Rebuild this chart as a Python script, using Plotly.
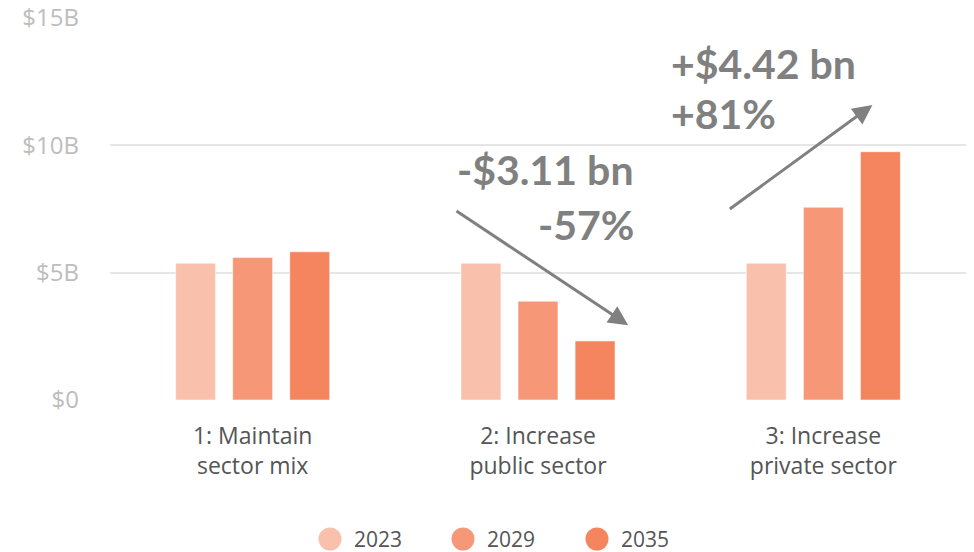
import plotly.graph_objects as go

categories = ["1: Maintain<br>sector mix", "2: Increase<br>public sector", "3: Increase<br>private sector"]
years = ["2023", "2029", "2035"]
values_2023 = [5.37, 5.37, 5.37]
values_2029 = [5.60, 3.88, 7.57]
values_2035 = [5.82, 2.32, 9.75]
series = [values_2023, values_2029, values_2035]
colors = ["#F9C1AC", "#F69878", "#F4855F"]
tick_vals = [0, 5, 10, 15]
tick_text = ["$0", "$5B", "$10B", "$15B"]

W, H = 974, 552
L, R, T, B = 110, 8, 18, 152
pw, ph = W - L - R, H - T - B

fig = go.Figure()
for yr, vals, col in zip(years, series, colors):
    fig.add_trace(go.Bar(x=categories, y=vals, name=yr, showlegend=False,
                         marker=dict(color=col, line=dict(color="rgba(255,255,255,0.55)", width=1))))

fig.update_layout(
    width=W, height=H,
    margin=dict(l=L, r=R, t=T, b=B),
    plot_bgcolor="white", paper_bgcolor="white",
    barmode="group", bargap=0.4, bargroupgap=0.3,
    font=dict(family="Open Sans", color="#555555"),
    showlegend=False,
)
fig.update_xaxes(showgrid=False, showline=False, ticks="", automargin=False,
                 ticklabelstandoff=20, tickfont=dict(size=23, color="#555555"))
fig.update_yaxes(range=[0, 15], tickvals=tick_vals, ticktext=tick_text, showgrid=True,
                 gridcolor="#E6E6E6", gridwidth=1.5, zeroline=False, showline=False,
                 automargin=False, ticklabelstandoff=30, tickfont=dict(size=24, color="#BDBDBD"))

# custom legend (circles + labels), positioned in paper fractions
legend_cx = [330, 463, 597]
legend_y = 539
for yr, col, cx in zip(years, colors, legend_cx):
    x0 = (cx - 11.5 - L) / pw
    x1 = (cx + 11.5 - L) / pw
    y0 = (H - B - (legend_y + 11.5)) / ph
    y1 = (H - B - (legend_y - 11.5)) / ph
    fig.add_shape(type="circle", xref="paper", yref="paper", x0=x0, x1=x1, y0=y0, y1=y1,
                  fillcolor=col, line=dict(width=0))
    fig.add_annotation(x=(cx + 23 - L) / pw, y=(H - B - legend_y) / ph, xref="paper", yref="paper",
                       xanchor="left", yanchor="middle", text=yr, showarrow=False, borderpad=0,
                       font=dict(family="Open Sans", size=21, color="#555555"))

ann_font = dict(family="Lato", size=41, color="#808080", weight="bold")
fig.add_annotation(x=1.316, y=2.94, ax=0.709, ay=7.46, xref="x", yref="y", axref="x", ayref="y",
                   showarrow=True, arrowhead=2, arrowsize=1.3, arrowwidth=3, arrowcolor="#808080", text="")
fig.add_annotation(x=2.172, y=11.58, ax=1.667, ay=7.46, xref="x", yref="y", axref="x", ayref="y",
                   showarrow=True, arrowhead=2, arrowsize=1.3, arrowwidth=3, arrowcolor="#808080", text="")
fig.add_annotation(x=1.345, y=9.06, xref="x", yref="y", xanchor="right", yanchor="middle",
                   text="-$3.11 bn", showarrow=False, font=ann_font)
fig.add_annotation(x=1.345, y=6.89, xref="x", yref="y", xanchor="right", yanchor="middle",
                   text="-57%", showarrow=False, font=ann_font)
fig.add_annotation(x=1.46, y=13.21, xref="x", yref="y", xanchor="left", yanchor="middle",
                   text="+$4.42 bn", showarrow=False, font=ann_font)
fig.add_annotation(x=1.46, y=11.25, xref="x", yref="y", xanchor="left", yanchor="middle",
                   text="+81%", showarrow=False, font=ann_font)

fig.write_html("out.html", config={"displayModeBar": False},
               post_script="document.body.style.margin='0';")
